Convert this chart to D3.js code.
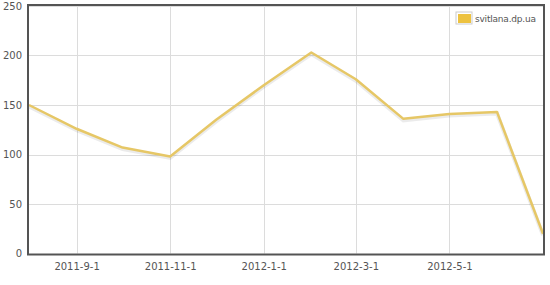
<!DOCTYPE html>
<html>
<head>
  <script src="https://d3js.org/d3.v7.min.js"></script>
  <style>
    body { margin: 0; background: #fff; }
    text { font-family: "DejaVu Sans", Verdana, sans-serif; }
  </style>
</head>
<body>
  <svg width="550" height="285"></svg>
  <script>
    // monthly visits, Aug 2011 .. Jul 2012
    const months = ["2011-08-01","2011-09-01","2011-10-01","2011-11-01","2011-12-01","2012-01-01",
                    "2012-02-01","2012-03-01","2012-04-01","2012-05-01","2012-06-01","2012-07-01"];
    const visits = [150, 126, 107, 98, 135, 170, 203, 176, 136, 141, 143, 20];
    const xTicks = ["2011-9-1","2011-11-1","2012-1-1","2012-3-1","2012-5-1"];
    const yTicks = [0, 50, 100, 150, 200, 250];
    const seriesName = "svitlana.dp.ua";

    const parse = d3.timeParse("%Y-%m-%d");
    const tickParse = d3.timeParse("%Y-%m-%e");
    const data = months.map((m, i) => ({date: parse(m), value: visits[i]}));

    const plotL = 29, plotR = 543, plotT = 6, plotB = 253.5;
    const svg = d3.select("svg");

    const x = d3.scaleTime()
      .domain(d3.extent(data, d => d.date))
      .range([plotL, plotR]);
    const y = d3.scaleLinear().domain([0, 250]).range([plotB, plotT]);

    // grid
    const grid = svg.append("g").attr("stroke", "#dcdcdc").attr("stroke-width", 1);
    grid.selectAll(".hg").data(yTicks.slice(1)).enter().append("line")
      .attr("x1", plotL).attr("x2", plotR)
      .attr("y1", d => Math.round(y(d)) + 0.5).attr("y2", d => Math.round(y(d)) + 0.5);
    grid.selectAll(".vg").data(xTicks).enter().append("line")
      .attr("y1", plotT).attr("y2", plotB)
      .attr("x1", d => Math.round(x(tickParse(d))) + 0.5)
      .attr("x2", d => Math.round(x(tickParse(d))) + 0.5);

    // axes labels
    const yAxis = d3.axisLeft(y).tickValues(yTicks).tickSize(0).tickPadding(7);
    svg.append("g").attr("transform", `translate(${plotL},0)`).call(yAxis)
      .call(g => g.select(".domain").remove())
      .call(g => g.selectAll("text").attr("fill", "#545454").attr("font-size", "10px")
        .attr("font-family", "'DejaVu Sans', Verdana, sans-serif"));

    const xAxis = d3.axisBottom(x).tickValues(xTicks.map(tickParse))
      .tickFormat((d, i) => xTicks[i]).tickSize(0).tickPadding(9);
    svg.append("g").attr("transform", `translate(0,${plotB})`).call(xAxis)
      .call(g => g.select(".domain").remove())
      .call(g => g.selectAll("text").attr("fill", "#545454").attr("font-size", "10px")
        .attr("font-family", "'DejaVu Sans', Verdana, sans-serif"));

    // line with soft shadow
    const line = d3.line().x(d => x(d.date)).y(d => y(d.value));
    svg.append("path").datum(data)
      .attr("fill", "none").attr("stroke", "rgba(0,0,0,0.08)").attr("stroke-width", 4)
      .attr("transform", "translate(0,1.5)").attr("d", line);
    svg.append("path").datum(data)
      .attr("fill", "none").attr("stroke", "#e6c766").attr("stroke-width", 2.5)
      .attr("stroke-linejoin", "round").attr("d", line);

    // border
    svg.append("rect")
      .attr("x", plotL - 1).attr("y", plotT - 1)
      .attr("width", plotR - plotL + 2).attr("height", plotB - plotT + 2)
      .attr("fill", "none").attr("stroke", "#545454").attr("stroke-width", 2);

    // legend
    const lg = svg.append("g").attr("transform", "translate(456,12)");
    lg.append("rect").attr("x", 0).attr("y", 0).attr("width", 16).attr("height", 12)
      .attr("fill", "#fff").attr("stroke", "#ccc");
    lg.append("rect").attr("x", 2).attr("y", 2).attr("width", 13).attr("height", 9)
      .attr("fill", "#edc240");
    lg.append("text").attr("x", 19).attr("y", 10).attr("font-size", "9px")
      .attr("textLength", 61).attr("lengthAdjust", "spacing")
      .attr("fill", "#545454").text(seriesName);
  </script>
</body>
</html>
